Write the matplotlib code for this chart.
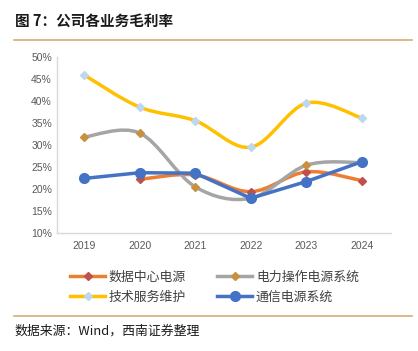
import matplotlib.pyplot as plt
import numpy as np
from matplotlib.path import Path
from matplotlib.patches import PathPatch
from matplotlib.lines import Line2D

plt.rcParams['font.family'] = ['Noto Sans CJK SC', 'DejaVu Sans']

years = ['2019', '2020', '2021', '2022', '2023', '2024']
data_center = [np.nan, 22.2, 23.2, 19.4, 23.9, 21.9]   # 数据中心电源
power_ops = [31.8, 32.7, 20.5, 17.9, 25.4, 26.0]       # 电力操作电源系统
tech_service = [45.9, 38.6, 35.5, 29.5, 39.5, 36.1]    # 技术服务维护
telecom = [22.4, 23.7, 23.6, 17.9, 21.7, 26.2]         # 通信电源系统

series = [
    ('数据中心电源', data_center, '#ED7D31', '#C0504D', 'D', 4.5, True),
    ('电力操作电源系统', power_ops, '#A5A5A5', '#C8913F', 'D', 4.5, True),
    ('技术服务维护', tech_service, '#FFC000', '#BDD7EE', 'D', 4.5, True),
    ('通信电源系统', telecom, '#4472C4', '#4472C4', 'o', 7, False),
]


def smooth_path(x, y):
    # catmull-rom style bezier, like excel's smoothed line
    verts = [(x[0], y[0])]
    codes = [Path.MOVETO]
    n = len(x)
    for i in range(n - 1):
        p0 = np.array([x[max(i - 1, 0)], y[max(i - 1, 0)]])
        p1 = np.array([x[i], y[i]])
        p2 = np.array([x[i + 1], y[i + 1]])
        p3 = np.array([x[min(i + 2, n - 1)], y[min(i + 2, n - 1)]])
        c1 = p1 + (p2 - p0) / 6
        c2 = p2 - (p3 - p1) / 6
        verts += [tuple(c1), tuple(c2), tuple(p2)]
        codes += [Path.CURVE4] * 3
    return Path(verts, codes)


fig = plt.figure(figsize=(4.18, 3.51), dpi=100)
ax = fig.add_axes([0.136, 0.336, 0.799, 0.502])
xs = np.arange(len(years))

handles = []
for name, vals, lc, mc, mk, ms, smooth in series:
    v = np.array(vals, dtype=float)
    ok = ~np.isnan(v)
    if smooth:
        ax.add_patch(PathPatch(smooth_path(xs[ok], v[ok]), fill=False,
                               edgecolor=lc, lw=2.5, capstyle='round', zorder=2))
    else:
        ax.plot(xs[ok], v[ok], color=lc, lw=2.5, zorder=3)
    ax.plot(xs[ok], v[ok], ls='none', marker=mk, ms=ms, color=mc, zorder=4)
    handles.append(Line2D([], [], color=lc, lw=2.5, marker=mk, ms=ms,
                          markerfacecolor=mc, markeredgecolor=mc, label=name))

ax.set_xlim(-0.49, 5.52)
ax.set_ylim(10, 50)
ax.set_xticks(xs)
ax.set_xticklabels(years)
ax.set_yticks(np.arange(10, 51, 5))
ax.set_yticklabels([f'{t}%' for t in range(10, 51, 5)])
ax.tick_params(colors='#595959', labelsize=7.5, length=0)
ax.tick_params(axis='x', pad=6)
for lab in ax.get_xticklabels() + ax.get_yticklabels():
    lab.set_family('Liberation Sans')
for s in ['top', 'right']:
    ax.spines[s].set_visible(False)
for s in ['left', 'bottom']:
    ax.spines[s].set_color('#D9D9D9')
    ax.spines[s].set_linewidth(1)

# legend fills column-wise, so order to get rows like the reference
order = [0, 2, 1, 3]
fig.legend(handles=[handles[i] for i in order], ncol=2, loc='upper left',
           bbox_to_anchor=(0.14, 0.262), frameon=False, fontsize=9.3,
           handlelength=2.7, columnspacing=2.4, labelcolor='#404040',
           handletextpad=0.3, labelspacing=0.55)

fig.text(0.035, 0.94, '图 7：公司各业务毛利率', fontsize=10.5, fontweight='bold',
         color='#1a1a1a', va='center')
fig.add_artist(Line2D([0.033, 0.986], [1 - 40 / 351] * 2, color='#D4AE78', lw=1.2))
fig.add_artist(Line2D([0.033, 0.986], [1 - 316 / 351] * 2, color='#D4AE78', lw=1.2))
fig.text(0.035, 1 - 331 / 351, '数据来源：Wind，西南证券整理', fontsize=9.3,
         style='italic', color='#1a1a1a', va='center')

fig.savefig('out.png', dpi=100)
